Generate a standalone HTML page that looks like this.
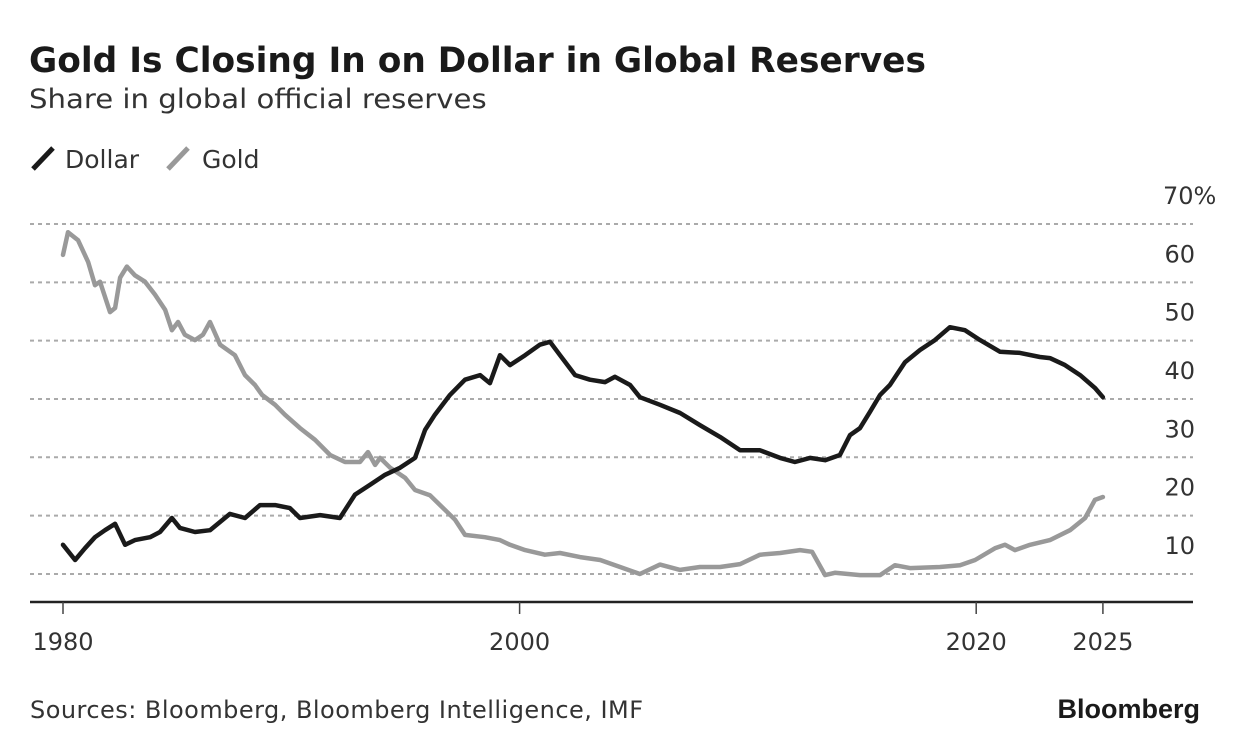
<!DOCTYPE html>
<html><head><meta charset="utf-8">
<style>
body{margin:0;background:#fff;width:1240px;height:750px;overflow:hidden;font-family:"DejaVu Sans","Liberation Sans",sans-serif;color:#222}
.t{position:absolute;white-space:nowrap}
</style></head><body>
<div class="t" style="left:29px;top:41px;font-size:34.4px;font-weight:bold;color:#1a1a1a">Gold Is Closing In on Dollar in Global Reserves</div>
<div class="t" style="left:29px;top:84px;font-size:27px;color:#333;transform:scaleX(1.08);transform-origin:0 0">Share in global official reserves</div>
<svg width="1240" height="750" style="position:absolute;left:0;top:0">
<g>
<line x1="33" y1="169" x2="53" y2="148" stroke="#1a1a1a" stroke-width="5"/>
<text x="65" y="168" font-size="25" fill="#333">Dollar</text>
<line x1="168" y1="169" x2="188" y2="148" stroke="#999" stroke-width="5"/>
<text x="202" y="168" font-size="25" fill="#333">Gold</text>
</g>
<g id="grid"></g><g id="axis"></g><g id="series"></g>
<text x="30" y="718" font-size="24" fill="#333" textLength="613">Sources: Bloomberg, Bloomberg Intelligence, IMF</text>
<text x="1200" y="718" font-size="27" font-weight="bold" fill="#1a1a1a" text-anchor="end" style="font-family:'Liberation Sans',sans-serif">Bloomberg</text>
</svg>
<script>
const yTicks=[10,20,30,40,50,60,70];
const yTickLabels=['10','20','30','40','50','60','70%'];
const xTicks=[1980,2000,2020,2025.55];
const xTickLabels=['1980','2000','2020','2025'];
const dollarYears=[0,.53,.96,1.4,1.84,2.28,2.72,3.15,3.81,4.25,4.77,5.12,5.78,6.44,7.31,7.97,8.63,9.29,9.94,10.38,11.26,12.13,12.79,13.45,14.11,14.76,15.42,15.86,16.29,16.95,17.61,18.27,18.7,19.14,19.58,20.24,20.89,21.33,21.77,22.43,23.08,23.74,24.18,24.84,25.27,26.15,27.03,27.9,28.78,29.66,30.53,31.41,32.06,32.72,33.38,34.03,34.47,34.91,35.35,35.79,36.22,36.88,37.54,38.19,38.85,39.51,40.17,41.04,41.92,42.79,43.23,43.89,44.55,45.2,45.55];
const dollarValues=[15,12.4,14.4,16.3,17.5,18.6,15,15.8,16.3,17.2,19.6,17.9,17.2,17.5,20.3,19.6,21.8,21.8,21.3,19.6,20.1,19.6,23.6,25.3,27,28.2,29.9,34.7,37.3,40.7,43.3,44.1,42.7,47.5,45.8,47.5,49.3,49.8,47.5,44.1,43.3,42.9,43.8,42.4,40.3,39,37.6,35.5,33.5,31.2,31.2,29.9,29.2,29.9,29.5,30.4,33.8,35,37.8,40.7,42.4,46.3,48.4,50.1,52.3,51.8,50.1,48.1,47.9,47.2,47,45.8,44.1,41.9,40.3];
const goldYears=[0,.22,.66,1.1,1.4,1.62,2.06,2.28,2.5,2.8,3.15,3.59,4.03,4.47,4.77,5.04,5.34,5.78,6.13,6.44,6.88,7.53,7.97,8.41,8.72,9.29,9.72,10.38,11.04,11.7,12.35,13.01,13.36,13.67,13.89,14.33,14.98,15.42,16.07,16.73,17.17,17.61,18.48,19.14,19.58,20.24,21.11,21.77,22.65,23.53,24.4,25.27,26.15,27.03,27.9,28.78,29.66,30.53,31.41,32.28,32.81,33.38,33.81,34.91,35.79,36.44,37.1,38.41,39.29,39.95,40.82,41.26,41.7,42.36,43.23,44.11,44.77,45.2,45.55];
const goldValues=[64.7,68.6,67.2,63.5,59.5,60.1,54.9,55.6,60.8,62.7,61.2,60.1,57.9,55.3,51.8,53.2,51,50.1,51,53.2,49.3,47.5,44.1,42.4,40.7,39,37.3,35,33,30.4,29.2,29.2,30.9,28.7,29.9,28.2,26.5,24.4,23.5,21,19.3,16.7,16.3,15.8,15,14.1,13.3,13.6,12.9,12.4,11.2,10,11.6,10.7,11.2,11.2,11.7,13.3,13.6,14.1,13.8,9.8,10.2,9.8,9.8,11.5,11,11.2,11.5,12.4,14.4,15,14.1,15,15.8,17.5,19.6,22.7,23.2];
const NS='http://www.w3.org/2000/svg';
const xs=yr=>63+(yr-1980)*22.83;
const ys=v=>632.3-v*5.833;
function mk(tag,attrs,parent){const e=document.createElementNS(NS,tag);for(const k in attrs)e.setAttribute(k,attrs[k]);document.getElementById(parent).appendChild(e);return e;}
yTicks.forEach((v,i)=>{
  const l=mk('line',{x1:30,x2:1193,y1:ys(v),y2:ys(v),stroke:'#aaa','stroke-width':2,'stroke-dasharray':'4,4'},'grid');
  
  
});
yTicks.forEach((v,i)=>{
  const t=mk('text',{x:1195,y:ys(v)-20,'font-size':24,fill:'#333','text-anchor':'end'},'grid');
  if(i===yTicks.length-1){t.setAttribute('text-anchor','start');t.setAttribute('x',1163);}
  t.textContent=yTickLabels[i];
  
  
});
const ax=mk('line',{x1:30,x2:1193,y1:602,y2:602,stroke:'#222','stroke-width':2.5},'axis');


xTicks.forEach((yr,i)=>{
  const tk=mk('line',{x1:xs(yr),x2:xs(yr),y1:602,y2:614,stroke:'#444','stroke-width':1.5},'axis');
  
  
  const t=mk('text',{x:xs(yr),y:650,'font-size':24,fill:'#333','text-anchor':'middle'},'axis');
  t.textContent=xTickLabels[i];
  
  
});
function line(yrs,vals,color,name){
  const d=yrs.map((y,i)=>(i?'L':'M')+xs(1980+y).toFixed(1)+','+ys(vals[i]).toFixed(1)).join('');
  const p=mk('path',{d:d,fill:'none',stroke:color,'stroke-width':4.5,'stroke-linejoin':'round','stroke-linecap':'round'},'series');
  
  
}
line(goldYears,goldValues,'#999','gold-line');
line(dollarYears,dollarValues,'#1a1a1a','dollar-line');
</script>
</body></html>
